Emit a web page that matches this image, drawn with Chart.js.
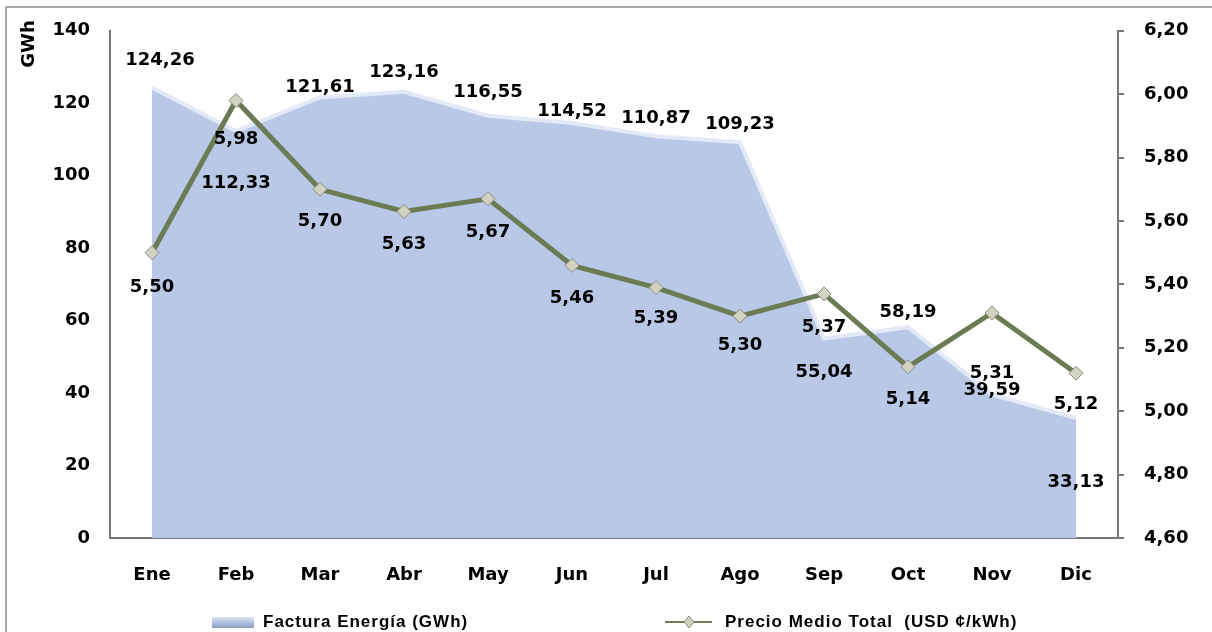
<!DOCTYPE html>
<html>
<head>
<meta charset="utf-8">
<script src="https://cdn.jsdelivr.net/npm/chart.js@4"></script>
<style>
  html, body { margin: 0; padding: 0; background: #fff; }
  #wrap { width: 1212px; height: 632px; position: relative; }
</style>
</head>
<body>
<div id="wrap"><canvas id="grafico" width="1212" height="632"></canvas></div>
<script>
// Datos
const meses = ['Ene', 'Feb', 'Mar', 'Abr', 'May', 'Jun', 'Jul', 'Ago', 'Sep', 'Oct', 'Nov', 'Dic'];
const facturaEnergia = [124.26, 112.33, 121.61, 123.16, 116.55, 114.52, 110.87, 109.23, 55.04, 58.19, 39.59, 33.13];
const precioMedio = [5.50, 5.98, 5.70, 5.63, 5.67, 5.46, 5.39, 5.30, 5.37, 5.14, 5.31, 5.12];
const ticksGWh = [0, 20, 40, 60, 80, 100, 120, 140];
const ticksPrecio = [4.60, 4.80, 5.00, 5.20, 5.40, 5.60, 5.80, 6.00, 6.20];

// decalage des etiquettes (px), pour coller au placement d'origine
const decalFactura = [-27, 52, -10, -19, -23, -12, -18, -18, 34, -15, -4, 64];
const decalPrecio = [35, 39, 32, 33, 34, 33, 31, 29, 33, 33, 60, 31];

const fuente = '"DejaVu Sans", Verdana, sans-serif';
const gris = '#777777';

function coma(v) {
    return v.toFixed(2).replace('.', ',');
}

const etiquetas = {
    id: 'etiquetas',
    beforeDraw(chart) {
        const ctx = chart.ctx;
        ctx.letterSpacing = '0px';
        ctx.save();
        ctx.strokeStyle = '#8c8c8c';
        ctx.lineWidth = 1.5;
        ctx.strokeRect(6, 7, 1400, 800);
        ctx.restore();
    },
    afterDatasetsDraw(chart) {
        const ctx = chart.ctx;
        ctx.save();
        ctx.font = 'bold 18px ' + fuente;
        ctx.fillStyle = '#000';
        ctx.textAlign = 'center';
        ctx.textBaseline = 'middle';
        const area = chart.getDatasetMeta(0).data;
        area.forEach(function(p, i) {
            ctx.fillText(coma(facturaEnergia[i]), p.x + (i == 0 ? 8 : 0), p.y + decalFactura[i]);
        });
        const linea = chart.getDatasetMeta(1).data;
        linea.forEach(function(p, i) {
            ctx.fillText(coma(precioMedio[i]), p.x, p.y + decalPrecio[i]);
        });
        ctx.restore();
    },
    afterDraw(chart) {
        const ctx = chart.ctx;
        ctx.save();
        // titulo GWh vertical
        ctx.font = 'bold 18px ' + fuente;
        ctx.fillStyle = '#000';
        ctx.translate(29, 44);
        ctx.rotate(-Math.PI / 2);
        ctx.textAlign = 'center';
        ctx.textBaseline = 'middle';
        ctx.fillText('GWh', 0, 0);
        ctx.restore();

        // leyenda
        ctx.save();
        const yLey = 622;
        const grad = ctx.createLinearGradient(0, yLey - 6, 0, yLey + 6);
        grad.addColorStop(0, '#e4eaf7');
        grad.addColorStop(0.5, '#b5c3e2');
        grad.addColorStop(1, '#8f9fc4');
        ctx.fillStyle = grad;
        ctx.fillRect(212, yLey - 5, 42, 11);
        ctx.font = 'bold 17px "Liberation Sans", Arial, sans-serif';
        ctx.letterSpacing = '1px';
        ctx.fillStyle = '#000';
        ctx.textBaseline = 'middle';
        ctx.fillText(chart.data.datasets[0].label, 263, yLey);

        ctx.strokeStyle = '#6b7c55';
        ctx.lineWidth = 2;
        ctx.beginPath();
        ctx.moveTo(665, yLey);
        ctx.lineTo(712, yLey);
        ctx.stroke();
        ctx.fillStyle = '#d2d2c2';
        ctx.strokeStyle = '#8c8c80';
        ctx.lineWidth = 1;
        ctx.beginPath();
        ctx.moveTo(689, yLey - 6);
        ctx.lineTo(694, yLey);
        ctx.lineTo(689, yLey + 6);
        ctx.lineTo(684, yLey);
        ctx.closePath();
        ctx.fill();
        ctx.stroke();
        ctx.fillStyle = '#000';
        ctx.fillText(chart.data.datasets[1].label, 725, yLey);
        ctx.letterSpacing = '0px';
        ctx.restore();
        ctx.letterSpacing = '0px';
    }
};

const ctx = document.getElementById('grafico');
new Chart(ctx, {
    data: {
        labels: meses,
        datasets: [
            {
                type: 'line',
                label: 'Factura Energía (GWh)',
                data: facturaEnergia,
                yAxisID: 'y',
                fill: 'origin',
                backgroundColor: '#bac8e7',
                borderColor: '#e3e9f7',
                borderWidth: 4,
                tension: 0,
                pointRadius: 0,
                order: 2
            },
            {
                type: 'line',
                label: 'Precio Medio Total  (USD ¢/kWh)',
                data: precioMedio,
                yAxisID: 'y1',
                fill: false,
                borderColor: '#6b7c55',
                borderWidth: 5,
                tension: 0,
                pointStyle: 'rectRot',
                pointRadius: 7,
                pointBackgroundColor: '#d2d2c2',
                pointBorderColor: '#8c8c80',
                pointBorderWidth: 1,
                order: 1
            }
        ]
    },
    options: {
        responsive: false,
        animation: false,
        layout: { padding: { top: 30, left: 0, right: 0, bottom: 0 } },
        plugins: {
            legend: { display: false },
            tooltip: { enabled: false }
        },
        scales: {
            x: {
                offset: true,
                grid: { display: false, drawTicks: false },
                border: { display: true, color: gris, width: 2 },
                ticks: { color: '#000', font: { family: fuente, size: 18, weight: 'bold' }, padding: 27 },
                afterFit: function(s) { s.height = 94; }
            },
            y: {
                position: 'left',
                min: 0,
                max: 140,
                afterBuildTicks: function(s) { s.ticks = ticksGWh.map(function(v) { return { value: v }; }); },
                grid: { display: false, drawTicks: false },
                border: { display: true, color: gris, width: 2 },
                ticks: { color: '#000', font: { family: fuente, size: 18, weight: 'bold' }, padding: 20 },
                afterFit: function(s) { s.width = 110; }
            },
            y1: {
                position: 'right',
                min: 4.6,
                max: 6.2,
                afterBuildTicks: function(s) { s.ticks = ticksPrecio.map(function(v) { return { value: v }; }); },
                grid: { drawOnChartArea: false, drawTicks: true, tickLength: 6, color: gris, tickColor: gris, lineWidth: 2 },
                border: { display: true, color: gris, width: 2 },
                ticks: {
                    color: '#000',
                    font: { family: fuente, size: 18, weight: 'bold' },
                    padding: 20,
                    callback: function(v) { return coma(v); }
                },
                afterFit: function(s) { s.width = 94; }
            }
        }
    },
    plugins: [etiquetas]
});
</script>
</body>
</html>
